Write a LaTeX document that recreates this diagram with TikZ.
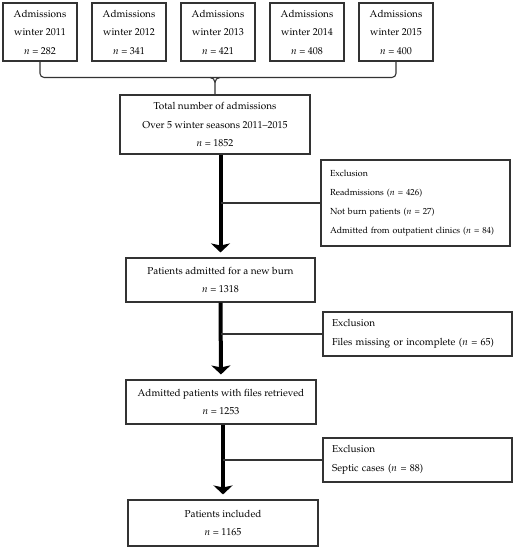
\documentclass[tikz,border=0pt]{standalone}
\usepackage[T1]{fontenc}
\usepackage{mathpazo}
\usetikzlibrary{arrows.meta}
\tikzstyle{box}=[draw=black!80, line width=1.1pt, align=center, inner sep=0pt, font=\fontsize{10}{18.5}\selectfont]
\tikzset{exbox/.style={box, align=left, inner xsep=9pt, text width=171pt, minimum width=189pt},
  link/.style={draw=black!80, line width=1.1pt},
  flow/.style={line width=4pt, -{Stealth[width=19pt,length=9pt,inset=2pt]}, shorten >=5pt}}

\begin{document}
\begin{tikzpicture}[x=1pt,y=-1pt]
    \useasboundingbox (0,0) rectangle (516,550);
    \foreach \yr/\num [count=\i from 0] in {2011/282,2012/341,2013/421,2014/408,2015/400}
      \node[box, minimum width=74pt, minimum height=58pt] (w\yr) at (40+89*\i,32) {Admissions\\winter \yr\\$n$ = \num};
    \node[box, minimum width=190pt, minimum height=59pt] (total) at (215,124.5) {Total number of admissions\\Over 5 winter seasons 2011--2015\\$n$ = 1852};
    \node[box, minimum width=189pt, minimum height=44pt] (newburn) at (220.5,280) {Patients admitted for a new burn\\$n$ = 1318};
    \node[box, minimum width=190pt, minimum height=44pt] (retrieved) at (221,402) {Admitted patients with files retrieved\\$n$ = 1253};
    \node[box, minimum width=190pt, minimum height=46pt] (included) at (223,523) {Patients included\\$n$ = 1165};
    \node[exbox, minimum height=86pt, font=\fontsize{8.8}{19}\selectfont] (excl1) at (415.5,203) {Exclusion\\Readmissions ($n$ = 426)\\Not burn patients ($n$ = 27)\\Admitted from outpatient clinics ($n$ = 84)};
    \node[exbox, minimum height=44pt] (excl2) at (417.5,334) {Exclusion\\Files missing or incomplete ($n$ = 65)};
    \node[exbox, minimum height=44pt] (excl3) at (417.5,460) {Exclusion\\Septic cases ($n$ = 88)};
    \draw[link, rounded corners=4pt] (w2011.south) |- ([yshift=17pt]total.north) -| (w2015.south);
    \draw[link] (total.north) -- ++(0,-12) to[out=90,in=0] ++(-5,-5);
    \draw[link] ([yshift=12pt]total.north) to[out=90,in=180] ++(5,-5);
    \draw[flow] (total.south -| newburn.north) -- (newburn.north);
    \draw[flow] (newburn.south) -- (retrieved.north);
    \draw[flow] (retrieved.south -| included.north) -- (included.north);
    \draw[link] (excl1.west) -- (excl1.west -| newburn.north);
    \draw[link] (excl2.west) -- (excl2.west -| newburn.south);
    \draw[link] (excl3.west) -- (excl3.west -| included.north);
  \end{tikzpicture}
\end{document}
